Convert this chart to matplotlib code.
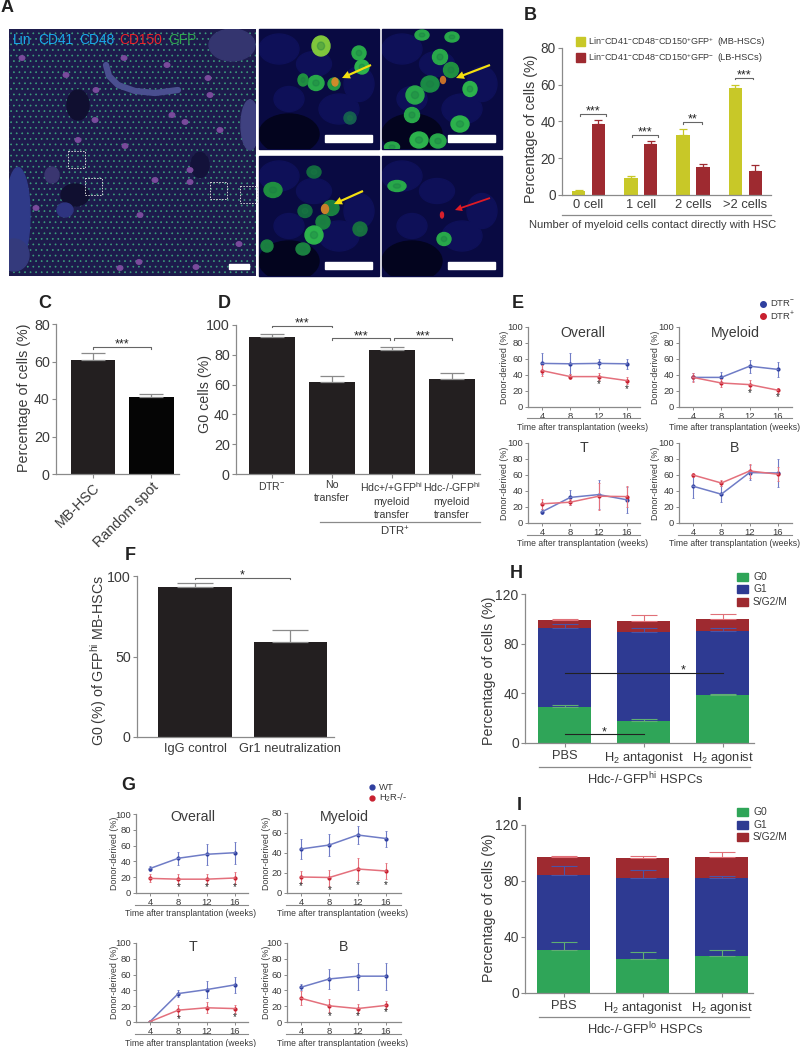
import matplotlib
matplotlib.use('Agg')
import matplotlib.pyplot as plt
from matplotlib.patches import Rectangle, Ellipse, FancyArrow

W, H = 800, 1047
plt.rcParams['font.family'] = ['Liberation Sans', 'DejaVu Sans']
plt.rcParams['mathtext.fontset'] = 'custom'
plt.rcParams['mathtext.rm'] = 'Liberation Sans'
plt.rcParams['mathtext.default'] = 'regular'
plt.rcParams['hatch.linewidth'] = 0.5

TEXT = '#3a3a3a'
GREY = '#8a8a8a'
YELLOW = '#c8c828'
DARKRED = '#9e2a30'
GREEN = '#2fa558'
NAVY = '#2e3a92'
LINE_BLUE = '#6f7cc6'
LINE_RED = '#e4707c'
DOT_BLUE = '#2f3f9f'
DOT_RED = '#c8202f'

# panel B
b_cats = ['0 cell', '1 cell', '2 cells', '>2 cells']
b_mb = [2, 9.5, 32.5, 58.5]
b_mb_err = [0.5, 1, 3.5, 1.5]
b_lb = [38.5, 28, 15, 13]
b_lb_err = [2.5, 1.5, 2, 3.5]

# panel C
c_cats = ['MB-HSC', 'Random spot']
c_vals = [61, 41]
c_err = [3.5, 1.5]

# panel D
d_cats = ['DTR$^{-}$', 'No\ntransfer', 'Hdc+/+GFP$^{hi}$\nmyeloid\ntransfer',
          'Hdc-/-GFP$^{hi}$\nmyeloid\ntransfer']
d_vals = [92, 62, 83.5, 63.5]
d_err = [2, 4, 2, 4.5]

# panel F
f_cats = ['IgG control', 'Gr1 neutralization']
f_vals = [93, 59]
f_err = [2.5, 7.5]

# panels E and G share the time axis
weeks = [4, 8, 12, 16]

e_overall_dtrneg = [54.5, 54, 54.5, 54]
e_overall_dtrneg_err = [13, 13, 6, 6.5]
e_overall_dtrpos = [45.5, 38, 38, 33]
e_overall_dtrpos_err = [7, 3.5, 4.5, 4.5]
e_myeloid_dtrneg = [37, 37, 51, 47]
e_myeloid_dtrneg_err = [5, 7, 8, 9]
e_myeloid_dtrpos = [37, 30, 28, 21]
e_myeloid_dtrpos_err = [6, 5, 6, 3]
e_t_dtrneg = [14, 32, 35.5, 29]
e_t_dtrneg_err = [3, 9, 18, 16]
e_t_dtrpos = [24, 26, 33.5, 33]
e_t_dtrpos_err = [6, 4, 17, 13]
e_b_dtrneg = [46, 36, 63, 62.5]
e_b_dtrneg_err = [15, 10, 9, 18]
e_b_dtrpos = [60, 50, 65, 61]
e_b_dtrpos_err = [3, 4, 9, 9]

g_overall_wt = [31, 44, 49, 51]
g_overall_wt_err = [3, 8, 13, 14]
g_overall_ko = [18.5, 17.5, 17.5, 19]
g_overall_ko_err = [5, 6, 6, 7]
g_myeloid_wt = [44, 48, 58, 54.5]
g_myeloid_wt_err = [10, 11, 9, 8]
g_myeloid_ko = [16, 15.5, 24, 22]
g_myeloid_ko_err = [6, 8, 11, 8]
g_t_wt = [0.5, 36, 41, 47]
g_t_wt_err = [0.5, 4, 11, 10]
g_t_ko = [0.5, 15, 18, 17]
g_t_ko_err = [0.5, 7, 7, 5]
g_b_wt = [44, 54.5, 58, 58]
g_b_wt_err = [4, 13, 17, 17]
g_b_ko = [30, 20.5, 17, 21]
g_b_ko_err = [9, 8, 6, 5]

# panels H and I
cycle_cats = ['PBS', 'H$_2$ antagonist', 'H$_2$ agonist']
h_g0 = [29, 18, 38.5]
h_g1 = [64, 71.5, 52]
h_s = [6, 8.5, 9]
h_g0_err = [2, 1.5, 1]
h_g1_err = [2.5, 3, 2.5]
h_s_err = [0.5, 5, 4]
i_g0 = [31, 24.3, 26.7]
i_g1 = [53.3, 58.1, 55.4]
i_s = [12.8, 14, 14.8]
i_g0_err = [5.4, 4.7, 4]
i_g1_err = [6.2, 5.6, 1.7]
i_s_err = [0.5, 1.2, 4]

fig = plt.figure(figsize=(W / 100, H / 100), dpi=100)

# whole-figure axes in pixels, for letters, images and rules under the labels
page = fig.add_axes([0, 0, 1, 1], zorder=5)
page.set_xlim(0, W)
page.set_ylim(H, 0)
page.axis('off')
page.patch.set_alpha(0)


def make_axes(left, right, top, bottom, xlim, ylim, yticks, tick_size=10):
    ax = fig.add_axes([left / W, 1 - bottom / H, (right - left) / W, (bottom - top) / H])
    ax.set_xlim(*xlim)
    ax.set_ylim(*ylim)
    ax.set_yticks(yticks)
    ax.spines[['top', 'right']].set_visible(False)
    ax.spines[['left', 'bottom']].set_color(GREY)
    ax.spines[['left', 'bottom']].set_linewidth(0.9)
    ax.tick_params(colors=GREY, labelcolor=TEXT, labelsize=tick_size, length=3, width=0.8, pad=1.5)
    ax.patch.set_alpha(0)
    return ax


def y_label(ax, text, x, y, size=10.3):
    # rotated labels anchor on their right edge, so shift by half the text height
    ax.set_ylabel(text, fontsize=size, color=TEXT)
    ax.yaxis.set_label_coords(x + size * 0.72, y, transform=page.transData)


def stars_at(ax, x, y, stars, size=9, zorder=4):
    ax.annotate(stars, xy=(x, y), xytext=(0, -0.5), textcoords='offset points', ha='center',
                va='baseline', fontsize=size, color='#222222', zorder=zorder, annotation_clip=False)


def bracket(ax, x0, x1, y, stars, tip=1.0, color='#666666', lw=0.8):
    ax.plot([x0, x0, x1, x1], [y - tip, y, y, y - tip], color=color, lw=lw, clip_on=False)
    stars_at(ax, (x0 + x1) / 2, y, stars)


def solid_bars(ax, x, vals, errs, colors, width, capsize, err_color=GREY):
    ax.bar(x, vals, width=width, color=colors)
    ax.errorbar(x, vals, yerr=[[0] * len(errs), errs], linestyle='none', ecolor=err_color,
                capsize=capsize, elinewidth=0.9, capthick=0.9, zorder=1)


def time_panel(left, right, top, bottom, ymax, yticks, title, title_xy, rule_y, label_gap,
               blue, blue_err, red, red_err, stars):
    # x limits come from the tick spacing of 28.3 px per 4 weeks
    per_week = 28.3 / 4
    x0 = 4 - (14 / per_week)
    x1 = x0 + (right - left) / per_week
    ax = make_axes(left, right, top, bottom, (x0, x1), (0, ymax), yticks, tick_size=6.8)
    ax.set_xticks(weeks)
    ax.tick_params(length=2, width=0.7)
    y_label(ax, 'Donor-derived (%)', left - label_gap, (top + bottom) / 2, size=6.4)
    for vals, errs, line, dot in ((blue, blue_err, LINE_BLUE, DOT_BLUE), (red, red_err, LINE_RED, DOT_RED)):
        ax.errorbar(weeks, vals, yerr=errs, color=line, lw=1.1, ecolor=line, elinewidth=0.8,
                    capsize=1, capthick=0.6, clip_on=False)
        ax.plot(weeks, vals, linestyle='none', marker='o', ms=2, color=dot)
    for wk, y in stars:
        ax.text(wk, y, '*', ha='center', va='center', fontsize=7, color='#222222')
    page.text(title_xy[0], title_xy[1], title, ha='center', va='center', fontsize=10.2, color=TEXT)
    page.plot([left - 1, right], [rule_y, rule_y], color=GREY, lw=0.8)
    page.text((left + right) / 2 - 1, rule_y + 9, 'Time after transplantation (weeks)', ha='center',
              va='center', fontsize=6.2, color=TEXT)
    return ax


def cycle_panel(left, right, top, bottom, g0, g1, s, g0_err, g1_err, s_err, centres, legend_ys, title, rule_y, label_y):
    spacing = centres[1] - centres[0]
    x0 = -(centres[0] - left) / spacing
    x1 = (right - centres[0]) / spacing
    ax = make_axes(left, right, top, bottom, (x0, x1), (0, 120), [0, 40, 80, 120])
    x = [0, 1, 2]
    g1_base = g0
    s_base = [a + b for a, b in zip(g0, g1)]
    for base, vals, errs, col, ec in ((None, g0, g0_err, GREEN, '#5fae72'),
                                      (g1_base, g1, g1_err, NAVY, '#4a54a8'),
                                      (s_base, s, s_err, DARKRED, '#e07078')):
        ax.bar(x, vals, width=0.67, bottom=base, color=col, zorder=2)
        start = vals if base is None else [a + b for a, b in zip(base, vals)]
        ax.errorbar(x, start, yerr=[[0] * 3, errs], linestyle='none', ecolor=ec, capsize=9.5,
                    elinewidth=0.8, capthick=0.8, zorder=3)
    ax.set_xticks(x, cycle_cats, fontsize=9.3)
    ax.tick_params(axis='x', pad=2)
    y_label(ax, 'Percentage of cells (%)', 489, (top + bottom) / 2 + (2 if top < 700 else -1))
    for ly, name, col in zip(legend_ys, ['G0', 'G1', 'S/G2/M'], [GREEN, NAVY, DARKRED]):
        page.add_patch(Rectangle((737, ly - 4), 10.5, 8, color=col))
        page.text(753, ly, name, va='center', fontsize=7.4, color=TEXT)
    page.plot([left + 14, right - 4], [rule_y, rule_y], color=GREY, lw=0.9)
    page.text(645, label_y, title, ha='center', va='center', fontsize=9.3, color=TEXT)
    return ax


# ---- panel A: stained tissue sections ----
def clip_to(artist, box):
    artist.set_clip_path(box)


page.add_patch(Rectangle((9, 29), 247, 247, facecolor='#1d1b4c', edgecolor='none'))
main_box = Rectangle((9, 29), 247, 247, transform=page.transData)
page.add_patch(Rectangle((9, 29), 247, 247, facecolor='none', edgecolor='#3c9c7c', hatch='...', lw=0))
tissue_blobs = [(78, 105, 22, 30, '#100f30'), (75, 195, 28, 22, '#100f30'), (200, 165, 18, 25, '#13123a'),
                (232, 45, 46, 32, '#34356f'), (250, 125, 18, 50, '#3f4180'), (18, 215, 24, 95, '#2f3a88'),
                (14, 255, 30, 32, '#343a7c'), (65, 210, 16, 14, '#2e3480'), (52, 175, 14, 16, '#3a3670')]
for bx, by, bw, bh, bc in tissue_blobs:
    p = Ellipse((bx, by), bw, bh, color=bc)
    page.add_patch(p)
    clip_to(p, main_box)
purple_spots = [(22, 58), (66, 75), (124, 58), (96, 90), (167, 65), (185, 122), (172, 115), (190, 170), (125, 146),
                (155, 180), (190, 182), (139, 262), (196, 267), (239, 244), (140, 215), (78, 140), (210, 95),
                (208, 78), (36, 208), (120, 268), (95, 120), (220, 130)]
for px, py in purple_spots:
    p = Ellipse((px, py), 5.5, 4.5, color='#7a4a9c')
    page.add_patch(p)
    clip_to(p, main_box)
page.plot([106, 109, 118, 135, 155, 178], [65, 76, 85, 91, 93, 90], color='#4a4f90', lw=4.5,
          solid_capstyle='round')
for sx, sy in [(68, 151), (85, 178), (210, 182), (240, 186)]:
    page.add_patch(Rectangle((sx, sy), 17, 17, fill=False, edgecolor='#d8d8d8', lw=0.7, linestyle=(0, (1.5, 1.5))))
page.add_patch(Rectangle((229, 264), 20, 5, color='white'))

stain_labels = [('Lin', 13, '#1aa8e8'), ('CD41', 38, '#1aa8e8'), ('CD48', 79, '#1aa8e8'),
                ('CD150', 119, '#e8242a'), ('GFP', 168, '#30a850')]
for name, tx, col in stain_labels:
    page.text(tx, 40, name, color=col, fontsize=9.9, va='center')

zoom_panels = [(259, 29), (382, 29), (259, 156), (382, 156)]
cells = [
    [(62, 17, 18, 20, '#7fc63c'), (100, 24, 14, 14, '#28a84a'), (103, 38, 14, 14, '#2cb24c'), (57, 54, 16, 15, '#28a84a'),
     (44, 51, 10, 12, '#1f8f40'), (75, 55, 12, 12, '#249a44'), (91, 89, 12, 12, '#155f50')],
    [(58, 28, 15, 15, '#28a84a'), (69, 41, 15, 15, '#1f8f40'), (48, 55, 18, 16, '#1a8a45'), (33, 66, 18, 18, '#28a84a'),
     (88, 60, 14, 15, '#2cb24c'), (30, 86, 15, 15, '#28a84a'), (37, 111, 18, 16, '#2cb24c'), (56, 112, 16, 14, '#28a84a'),
     (10, 118, 15, 10, '#28a84a'), (78, 95, 18, 16, '#2cb24c'), (40, 6, 14, 10, '#28a84a'), (70, 8, 14, 10, '#28a84a')],
    [(14, 34, 18, 15, '#1f8f40'), (55, 16, 14, 12, '#136a40'), (72, 52, 16, 15, '#1a8040'), (64, 66, 14, 14, '#1a8040'),
     (46, 55, 14, 13, '#136a40'), (55, 79, 18, 18, '#2cb24c'), (44, 93, 14, 12, '#1a8040'), (101, 73, 14, 14, '#176f40'),
     (8, 90, 12, 12, '#1a8040')],
    [(15, 30, 18, 11, '#28a84a'), (62, 83, 14, 13, '#28a84a')],
]
mottle = [(20, 20, 40, 30), (80, 80, 40, 30), (55, 35, 35, 25), (100, 55, 30, 35), (30, 70, 30, 25)]
for (zx, zy), panel_cells in zip(zoom_panels, cells):
    page.add_patch(Rectangle((zx, zy), 120, 120, color='#090a42'))
    box = Rectangle((zx, zy), 120, 120, transform=page.transData)
    for mx, my, mw, mh in mottle:
        m = Ellipse((zx + mx, zy + my), mw, mh, color='#0e1058')
        page.add_patch(m)
        clip_to(m, box)
    dark = Ellipse((zx + 30, zy + 105), 60, 40, color='#03041e')
    page.add_patch(dark)
    clip_to(dark, box)
    for cx, cy, cw, ch, cc in panel_cells:
        e = Ellipse((zx + cx, zy + cy), cw, ch, color=cc)
        page.add_patch(e)
        clip_to(e, box)
        inner = Ellipse((zx + cx, zy + cy), cw * 0.4, ch * 0.4, color='#1a7a44', alpha=0.35)
        page.add_patch(inner)
        clip_to(inner, box)
    page.add_patch(Rectangle((zx + 66, zy + 106), 47, 7, color='white'))

page.add_patch(Ellipse((335, 82), 6, 8, color='#d08a2a'))
page.add_patch(FancyArrow(371, 65, -29, 13, width=2.2, head_width=8, head_length=8,
                          length_includes_head=True, color='#f4e010', lw=0))
page.add_patch(Ellipse((443, 80), 5, 7, color='#c8702a'))
page.add_patch(FancyArrow(490, 65, -34, 13, width=2.2, head_width=8, head_length=8,
                          length_includes_head=True, color='#f4e010', lw=0))
page.add_patch(Ellipse((325, 209), 7, 9, color='#c8802a'))
page.add_patch(FancyArrow(363, 191, -29, 13, width=2.2, head_width=8, head_length=8,
                          length_includes_head=True, color='#f4e010', lw=0))
page.add_patch(Ellipse((442, 215), 3, 6, color='#d8202c'))
page.add_patch(FancyArrow(490, 198, -35, 12, width=1.8, head_width=7, head_length=7,
                          length_includes_head=True, color='#e01a24', lw=0))

# ---- panel letters ----
letters = [('A', 7, 8), ('B', 530, 15), ('C', 45, 303), ('D', 224, 303), ('E', 518, 303),
           ('F', 130, 555), ('G', 128, 786), ('H', 516, 573), ('I', 519, 805)]
for letter, lx, ly in letters:
    page.text(lx, ly, letter, ha='center', va='center', fontsize=13, fontweight='bold', color='#222222')

# ---- panel B ----
ax = make_axes(562, 771, 48, 195, (-0.507, 3.49), (0, 80), [0, 20, 40, 60, 80], tick_size=9.8)
bx = list(range(4))
bw = 0.255
mb_x = [i - 0.19 for i in bx]
lb_x = [i + 0.19 for i in bx]
ax.bar(mb_x, b_mb, width=bw, color=YELLOW)
ax.bar(lb_x, b_lb, width=bw, color=DARKRED)
ax.errorbar(mb_x, b_mb, yerr=[[0] * 4, b_mb_err], linestyle='none', ecolor=YELLOW, capsize=2.8, elinewidth=0.9, capthick=0.9)
ax.errorbar(lb_x, b_lb, yerr=[[0] * 4, b_lb_err], linestyle='none', ecolor=DARKRED, capsize=2.8, elinewidth=0.9, capthick=0.9)
ax.set_xticks(bx, b_cats, fontsize=9.3)
ax.tick_params(axis='x', length=0, pad=3)
y_label(ax, 'Percentage of cells (%)', 531, 129)
for x0, x1, y, stars in [(-0.163, 0.334, 44, '***'), (0.83, 1.33, 32.6, '***'),
                         (1.807, 2.17, 39.7, '**'), (2.8, 3.145, 63.7, '***')]:
    bracket(ax, x0, x1, y, stars, tip=0.8)
page.plot([562, 771], [215, 215], color=GREY, lw=0.9)
page.text(653, 225, 'Number of myeloid cells contact directly with HSC', ha='center', va='center', fontsize=8, color=TEXT)
page.add_patch(Rectangle((576, 37), 8.5, 8.5, color=YELLOW))
page.add_patch(Rectangle((576, 53), 8.5, 8.5, color=DARKRED))
page.text(588, 41, r'Lin$^{-}$CD41$^{-}$CD48$^{-}$CD150$^{+}$GFP$^{+}$', va='center', fontsize=6.5, color=TEXT)
page.text(717, 41, '(MB-HSCs)', va='center', fontsize=6.7, color=TEXT)
page.text(588, 57, r'Lin$^{-}$CD41$^{-}$CD48$^{-}$CD150$^{+}$GFP$^{-}$', va='center', fontsize=6.5, color=TEXT)
page.text(717, 57, '(LB-HSCs)', va='center', fontsize=6.7, color=TEXT)

# ---- panel C ----
ax = make_axes(56, 179, 324, 474, (-0.63, 1.47), (0, 80), [0, 20, 40, 60, 80], tick_size=10.3)
solid_bars(ax, [0, 1], c_vals, c_err, ['#231f20', '#050505'], 0.76, 8.4)
ax.set_xticks([0, 1], c_cats, rotation=45, ha='right', rotation_mode='anchor', fontsize=10.3)
y_label(ax, 'Percentage of cells (%)', 24, 398)
bracket(ax, 0, 1, 67.7, '***', tip=0.8)

# ---- panel D ----
ax = make_axes(236, 480, 325, 474, (-0.6, 3.47), (0, 100), [0, 20, 40, 60, 80, 100], tick_size=10.3)
solid_bars(ax, [0, 1, 2, 3], d_vals, d_err, ['#231f20'] * 4, 0.77, 8.6)
ax.set_xticks([0, 1, 2, 3], d_cats, fontsize=7.6, linespacing=1.35)
ax.tick_params(axis='x', pad=1.5)
y_label(ax, 'G0 cells (%)', 205, 394)
bracket(ax, 0, 1, 99.5, '***', tip=1.0)
bracket(ax, 1, 1.97, 91, '***', tip=1.0)
bracket(ax, 2.03, 3, 91, '***', tip=1.0)
page.plot([320, 480], [522, 522], color=GREY, lw=0.9)
page.text(395, 531, 'DTR$^{+}$', ha='center', va='center', fontsize=8.2, color=TEXT)

# ---- panel E ----
pct = [0, 20, 40, 60, 80, 100]
time_panel(528, 640, 327, 407, 100, pct, 'Overall', (583, 333), 418, 24, e_overall_dtrneg, e_overall_dtrneg_err,
           e_overall_dtrpos, e_overall_dtrpos_err, [(12, 29), (16, 23)])
time_panel(679, 792, 327, 407, 100, pct, 'Myeloid', (735, 333), 418, 24, e_myeloid_dtrneg, e_myeloid_dtrneg_err,
           e_myeloid_dtrpos, e_myeloid_dtrpos_err, [(12, 17), (16, 12)])
time_panel(528, 640, 443, 523, 100, pct, 'T', (584, 448), 535, 24, e_t_dtrneg, e_t_dtrneg_err,
           e_t_dtrpos, e_t_dtrpos_err, [])
time_panel(679, 792, 443, 523, 100, pct, 'B', (735, 448), 535, 24, e_b_dtrneg, e_b_dtrneg_err,
           e_b_dtrpos, e_b_dtrpos_err, [])
page.plot([763], [304], marker='o', ms=4, color=DOT_BLUE)
page.plot([763], [316], marker='o', ms=4, color=DOT_RED)
page.text(770, 304, 'DTR$^{-}$', va='center', fontsize=6.8, color=TEXT)
page.text(770, 316, 'DTR$^{+}$', va='center', fontsize=6.8, color=TEXT)

# ---- panel F ----
ax = make_axes(137, 334, 576, 737, (-0.61, 1.46), (0, 100), [0, 50, 100], tick_size=10.3)
solid_bars(ax, [0, 1], f_vals, f_err, ['#231f20', '#231f20'], 0.77, 13.2)
ax.set_xticks([0, 1], f_cats, fontsize=9.3)
ax.tick_params(axis='x', length=0, pad=4)
y_label(ax, 'G0 (%) of GFP$^{hi}$ MB-HSCs', 102, 660)
bracket(ax, 0, 1, 99, '*', tip=1.0)

# ---- panel G ----
time_panel(136, 248, 814, 893, 100, pct, 'Overall', (193, 817), 905, 22, g_overall_wt, g_overall_wt_err,
           g_overall_ko, g_overall_ko_err, [(8, 7), (12, 7), (16, 7)])
time_panel(287, 401, 813, 893, 80, [0, 20, 40, 60, 80], 'Myeloid', (344, 817), 905, 21, g_myeloid_wt, g_myeloid_wt_err,
           g_myeloid_ko, g_myeloid_ko_err, [(4, 7), (8, 3), (12, 8), (16, 8)])
time_panel(136, 248, 943, 1022, 100, pct, 'T', (193, 947), 1034, 22, g_t_wt, g_t_wt_err,
           g_t_ko, g_t_ko_err, [(8, 4), (16, 6)])
time_panel(287, 401, 943, 1022, 100, pct, 'B', (344, 947), 1034, 21, g_b_wt, g_b_wt_err,
           g_b_ko, g_b_ko_err, [(8, 8), (12, 8), (16, 13)])
page.plot([372], [787], marker='o', ms=3.5, color=DOT_BLUE)
page.plot([372], [798], marker='o', ms=3.5, color=DOT_RED)
page.text(379, 787, 'WT', va='center', fontsize=6.8, color=TEXT)
page.text(379, 798, 'H$_2$R-/-', va='center', fontsize=6.8, color=TEXT)

# ---- panels H and I ----
ax = cycle_panel(525, 754, 594, 743, h_g0, h_g1, h_s, h_g0_err, h_g1_err, h_s_err, [564.5, 643.5, 722.5],
                 [577, 589, 602], 'Hdc-/-GFP$^{hi}$ HSPCs', 767, 779)
ax.plot([0, 2], [56.4, 56.4], color='#222222', lw=0.8, zorder=4)
stars_at(ax, 1.5, 56.4, '*')
ax.plot([0, 1], [7, 7], color='#222222', lw=0.8, zorder=4)
stars_at(ax, 0.5, 7, '*')

cycle_panel(525, 753, 825, 993, i_g0, i_g1, i_s, i_g0_err, i_g1_err, i_s_err, [563.5, 642.5, 721.5],
            [812, 824.5, 837], 'Hdc-/-GFP$^{lo}$ HSPCs', 1017, 1029)

fig.savefig('out.png', dpi=100)
